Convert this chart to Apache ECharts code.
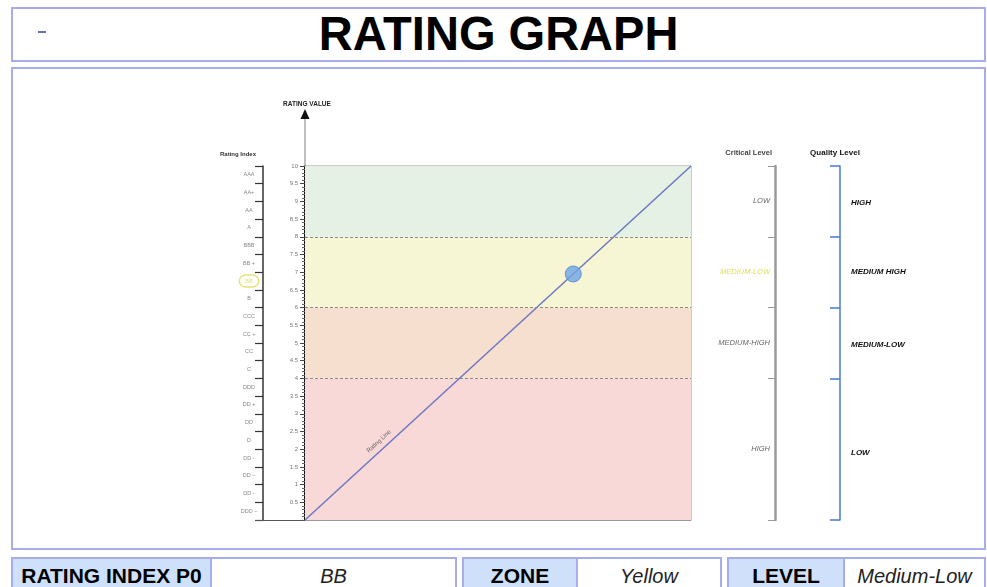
<!DOCTYPE html>
<html>
<head>
<meta charset="utf-8">
<title>Rating Graph</title>
<script src="https://cdn.jsdelivr.net/npm/echarts@6/dist/echarts.min.js"></script>
<style>
  html, body { margin: 0; padding: 0; background: #fff; }
  body { width: 987px; height: 587px; position: relative; overflow: hidden; font-family: "Liberation Sans", Arial, sans-serif; }
  .frame { position: absolute; box-sizing: border-box; border: 2px solid #a9acea; background: #fff; }
  #titleBox { left: 11px; top: 7px; width: 975px; height: 55px; }
  #titleBox .dash { position: absolute; left: 25px; top: 22px; width: 8px; height: 2px; background: #5a73c8; }
  #titleBox h1 { margin: 0; position: absolute; left: 0; right: 0; top: 1px; text-align: center; font-size: 48px; line-height: 48px; font-weight: bold; color: #000; transform: scaleX(0.98); transform-origin: 488px 0; }
  #mainBox { left: 11px; top: 67px; width: 975px; height: 483px; }
  .cell { position: absolute; top: 557px; height: 40px; box-sizing: border-box; border: 2px solid #a9acea; display: flex; align-items: center; justify-content: center; font-size: 20px; }
  .cell span { position: relative; top: -1px; }
  .lab { background: #cfe1fa; font-weight: bold; color: #000; }
  .lab span { font-size: 21px; }
  .val { background: #fff; font-style: italic; color: #222; }
  #chart { position: absolute; left: 0; top: 0; width: 987px; height: 587px; z-index: 2; }
</style>
</head>
<body>
<div class="frame" id="titleBox"><div class="dash"></div><h1>RATING GRAPH</h1></div>
<div class="frame" id="mainBox"></div>

<div class="cell lab" style="left:11px;width:201px;"><span>RATING INDEX P0</span></div>
<div class="cell val" style="left:210px;width:247px;"><span>BB</span></div>
<div class="cell lab" style="left:462px;width:116px;"><span>ZONE</span></div>
<div class="cell val" style="left:576px;width:146px;"><span>Yellow</span></div>
<div class="cell lab" style="left:727px;width:118px;"><span>LEVEL</span></div>
<div class="cell val" style="left:843px;width:143px;"><span>Medium-Low</span></div>

<div id="chart"></div>

<script>
// ---- data ----
// rating index categories, bottom to top
const ratingIndex = ['DDD –', 'DD -', 'DD –', 'DD -', 'D', 'DD', 'DD +', 'DDD', 'C', 'CC', 'CC +', 'CCC',
                     'B', 'BB', 'BB +', 'BBB', 'A', 'AA', 'AA+', 'AAA'];
const currentIndex = 'BB';
// zone boundaries on the rating value scale
const zoneBounds = [0, 4, 6, 8, 10];
// critical level names (bottom to top) and where their labels sit
const criticalLevels = ['HIGH', 'MEDIUM-HIGH', 'MEDIUM-LOW', 'LOW'];
const criticalLabelAt = [2, 5, 7, 9];
const currentCritical = 'MEDIUM-LOW';
// quality level names (bottom to top) and where their labels sit
const qualityLevels = ['LOW', 'MEDIUM-LOW', 'MEDIUM HIGH', 'HIGH'];
const qualityLabelAt = [1.9, 4.95, 7, 8.95];
// rating line and the current rating point
const ratingLine = [[0, 0], [10, 10]];
const currentRating = [[6.95, 6.95]];
const valueMin = 0, valueMax = 10, valueStep = 0.5;

// ---- styles ----
const zoneColors = ['#f9d8d8', '#f7dfcf', '#f7f6d4', '#e6f1e5'];
const font = '"Liberation Sans", Arial, sans-serif';

const chart = echarts.init(document.getElementById('chart'), null, { renderer: 'canvas' });

const zoneAreas = zoneColors.map((c, i) => [
  { xAxis: valueMin, yAxis: zoneBounds[i], itemStyle: { color: c } },
  { xAxis: valueMax, yAxis: zoneBounds[i + 1] }
]);
const zoneLines = zoneBounds.slice(1, -1).map(v => ({ yAxis: v }));

const option = {
  animation: false,
  textStyle: { fontFamily: font },
  grid: { left: 305, top: 166, width: 386, height: 354, show: true, borderColor: '#9a9a9a', borderWidth: 1, backgroundColor: 'transparent' },
  xAxis: {
    type: 'value', min: valueMin, max: valueMax,
    axisLine: { lineStyle: { color: '#9a9a9a', width: 1 } },
    axisTick: { show: false }, axisLabel: { show: false }, splitLine: { show: false }
  },
  yAxis: [
    {
      type: 'value', min: valueMin, max: valueMax, interval: valueStep,
      name: 'RATING VALUE', nameLocation: 'end', nameGap: 58,
      nameTextStyle: { fontSize: 6.5, fontWeight: 'bold', color: '#222', align: 'center', padding: [0, 0, 0, 4] },
      axisLine: { show: true, lineStyle: { color: '#111', width: 2 } },
      axisTick: { show: true, length: 5, lineStyle: { color: '#444' } },
      minorTick: { show: true, splitNumber: 5, length: 3, lineStyle: { color: '#666' } },
      axisLabel: { fontSize: 6, color: '#777', margin: 7, formatter: v => (v === 0 ? '' : String(v)) },
      splitLine: { show: false }
    },
    {
      type: 'category', data: ratingIndex, position: 'left', offset: 42, boundaryGap: true,
      name: 'Rating Index', nameLocation: 'end', nameGap: 9,
      nameTextStyle: { fontSize: 6, fontWeight: 'bold', color: '#333', align: 'right', padding: [0, 7, 0, 0] },
      axisLine: { show: true, lineStyle: { color: '#333', width: 1.5 } },
      axisTick: { show: true, length: 8, lineStyle: { color: '#333', width: 1.2 } },
      axisLabel: {
        fontSize: 5.5, color: '#888', margin: 14, align: 'center',
        formatter: v => (v === currentIndex ? '{hl|' + v + '}' : v),
        rich: { hl: { color: '#e3e36b', fontSize: 5.5, borderColor: '#e4e47a', borderWidth: 1.5, borderRadius: 8, padding: [3, 6] } }
      },
      splitLine: { show: false }
    },
    {
      type: 'value', min: valueMin, max: valueMax, position: 'right', offset: 84,
      name: 'Critical Level', nameLocation: 'end', nameGap: 9,
      nameTextStyle: { fontSize: 7.5, fontWeight: 'bold', color: '#444', align: 'right', padding: [0, 3, 0, 0] },
      axisLine: { show: true, lineStyle: { color: '#9a9a9a', width: 2.5 } },
      axisTick: { show: true, inside: true, length: 7, customValues: zoneBounds, lineStyle: { color: '#9a9a9a', width: 1 } },
      axisLabel: {
        show: true, inside: true, margin: 5, customValues: criticalLabelAt,
        fontSize: 7.5, fontStyle: 'italic', color: '#666',
        formatter: v => {
          const name = criticalLevels[criticalLabelAt.indexOf(v)] || '';
          return name === currentCritical ? '{hl|' + name + '}' : name;
        },
        rich: { hl: { color: '#dede55', fontSize: 7.5, fontStyle: 'italic' } }
      },
      splitLine: { show: false }
    },
    {
      type: 'value', min: valueMin, max: valueMax, position: 'right', offset: 149,
      name: 'Quality Level', nameLocation: 'end', nameGap: 9,
      nameTextStyle: { fontSize: 8, fontWeight: 'bold', color: '#111', align: 'center', padding: [0, 0, 0, -10] },
      axisLine: { show: true, lineStyle: { color: '#4a78d0', width: 1.5 } },
      axisTick: { show: true, inside: true, length: 10, customValues: zoneBounds, lineStyle: { color: '#4a78d0', width: 1.5 } },
      axisLabel: {
        show: true, margin: 11, customValues: qualityLabelAt,
        fontSize: 8, fontStyle: 'italic', fontWeight: 'bold', color: '#111',
        formatter: v => qualityLevels[qualityLabelAt.indexOf(v)] || ''
      },
      splitLine: { show: false }
    }
  ],
  series: [
    {
      type: 'line', name: 'Rating Line', data: ratingLine, xAxisIndex: 0, yAxisIndex: 0,
      symbol: 'none', z: 3,
      lineStyle: { color: '#6a78c2', width: 1.5 },
      markArea: { silent: true, z: 1, data: zoneAreas },
      markLine: {
        silent: true, symbol: 'none', label: { show: false },
        lineStyle: { color: '#8a8a8a', type: [3, 2], width: 1 },
        data: zoneLines
      },
      markPoint: {
        silent: true, symbol: 'circle', symbolSize: 0,
        label: { show: true, formatter: 'Rating Line', rotate: 42.5, fontSize: 6, color: '#666', offset: [-5, -8] },
        data: [{ coord: [2.15, 2.15] }]
      }
    },
    {
      type: 'scatter', name: 'Current Rating', data: currentRating, xAxisIndex: 0, yAxisIndex: 0,
      symbolSize: 16, z: 5,
      itemStyle: { color: '#6ea5e6', borderColor: '#4f86cf', borderWidth: 1 }
    }
  ]
};

chart.setOption(option);

// axis arrow above the rating value axis and baseline under the index axis
const axisTopPx = chart.convertToPixel({ gridIndex: 0 }, [valueMin, valueMax]);
const axisBottomPx = chart.convertToPixel({ gridIndex: 0 }, [valueMin, valueMin]);
chart.setOption({
  graphic: [
    { type: 'line', shape: { x1: axisTopPx[0], y1: axisTopPx[1], x2: axisTopPx[0], y2: axisTopPx[1] - 50 }, style: { stroke: '#aaaaaa', lineWidth: 1.5 }, z: 10 },
    { type: 'polygon', shape: { points: [[axisTopPx[0], axisTopPx[1] - 57], [axisTopPx[0] - 4.5, axisTopPx[1] - 47], [axisTopPx[0] + 4.5, axisTopPx[1] - 47]] }, style: { fill: '#111' }, z: 10 },
    { type: 'line', shape: { x1: axisBottomPx[0] - 50, y1: axisBottomPx[1] + 0.5, x2: axisBottomPx[0], y2: axisBottomPx[1] + 0.5 }, style: { stroke: '#555', lineWidth: 1.2 }, z: 10 }
  ]
});
</script>
</body>
</html>
